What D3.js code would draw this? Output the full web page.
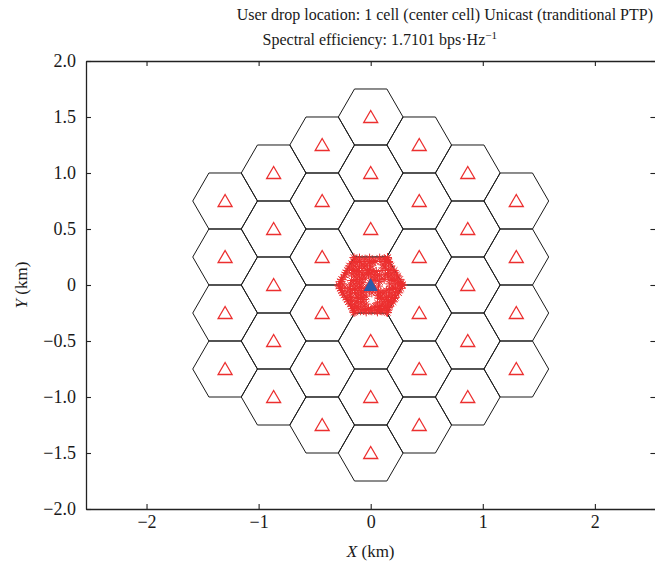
<!DOCTYPE html>
<html>
<head>
<meta charset="utf-8">
<script src="https://cdn.jsdelivr.net/npm/d3@7"></script>
<style>
  body { margin: 0; background: #fff; }
  text { font-family: "Liberation Serif", "Times New Roman", serif; fill: #1a1a1a; }
</style>
</head>
<body>
<svg id="chart" width="655" height="574"></svg>
<script>
// Hexagonal layout: 37 cells (3 rings) with base station at each centre (km)
const cellX = [
  0, 0, 0, 0, 0, 0, 0,
  0.433, 0.433, 0.433, 0.433, 0.433, 0.433,
  -0.433, -0.433, -0.433, -0.433, -0.433, -0.433,
  0.866, 0.866, 0.866, 0.866, 0.866,
  -0.866, -0.866, -0.866, -0.866, -0.866,
  1.299, 1.299, 1.299, 1.299,
  -1.299, -1.299, -1.299, -1.299
];
const cellY = [
  -1.5, -1.0, -0.5, 0, 0.5, 1.0, 1.5,
  -1.25, -0.75, -0.25, 0.25, 0.75, 1.25,
  -1.25, -0.75, -0.25, 0.25, 0.75, 1.25,
  -1.0, -0.5, 0, 0.5, 1.0,
  -1.0, -0.5, 0, 0.5, 1.0,
  -0.75, -0.25, 0.25, 0.75,
  -0.75, -0.25, 0.25, 0.75
];
const cellRadius = 0.2887;
const servingCell = [0, 0];

// User drop locations in the centre cell (km)
const users = [
  [-0.14,0.23],[-0.10,0.24],[-0.05,0.23],[-0.01,0.24],[0.03,0.22],[0.08,0.24],[0.12,0.23],[0.15,0.24],
  [-0.15,0.21],[-0.10,0.21],[-0.06,0.21],[-0.01,0.21],[0.04,0.21],[0.09,0.21],[0.13,0.21],[0.16,0.21],
  [-0.17,0.19],[-0.12,0.20],[-0.08,0.18],[-0.03,0.19],[0.02,0.20],[0.11,0.18],[0.16,0.20],
  [-0.19,0.17],[-0.14,0.17],[-0.05,0.17],[0.00,0.17],[0.13,0.17],[0.18,0.17],
  [-0.19,0.15],[-0.15,0.14],[-0.10,0.16],[-0.06,0.15],[-0.01,0.14],[0.13,0.15],[0.18,0.14],
  [-0.21,0.13],[-0.16,0.13],[-0.11,0.13],[-0.03,0.13],[0.02,0.13],[0.10,0.13],[0.16,0.13],[0.21,0.13],
  [-0.22,0.11],[-0.17,0.10],[-0.13,0.12],[-0.08,0.11],[-0.04,0.10],[0.00,0.11],[0.05,0.12],[0.15,0.10],[0.20,0.11],
  [-0.23,0.09],[-0.12,0.09],[-0.07,0.09],[-0.02,0.09],[0.03,0.09],[0.08,0.09],[0.13,0.09],[0.18,0.09],[0.23,0.09],
  [-0.24,0.07],[-0.15,0.08],[-0.10,0.07],[-0.05,0.06],[0.01,0.07],[0.06,0.08],[0.10,0.06],[0.16,0.07],[0.21,0.06],[0.24,0.08],
  [-0.26,0.05],[-0.13,0.05],[-0.08,0.05],[0.04,0.05],[0.12,0.05],[0.19,0.05],[0.26,0.05],
  [-0.27,0.03],[-0.17,0.04],[-0.12,0.03],[-0.07,0.02],[0.03,0.04],[0.08,0.03],[0.19,0.04],[0.24,0.03],[0.27,0.02],
  [-0.25,0.01],[-0.15,0.01],[-0.10,0.01],[0.17,0.01],[0.22,0.01],[0.27,0.01],
  [-0.28,-0.01],[-0.23,-0.02],[-0.18,0.00],[-0.13,-0.01],[-0.08,-0.02],[0.07,-0.01],[0.20,-0.02],[0.25,-0.01],[0.28,0.00],
  [-0.27,-0.03],[-0.19,-0.03],[-0.14,-0.03],[-0.09,-0.03],[-0.04,-0.03],[0.02,-0.03],[0.17,-0.03],[0.22,-0.03],[0.27,-0.03],
  [-0.26,-0.05],[-0.21,-0.06],[-0.16,-0.04],[-0.11,-0.05],[-0.06,-0.06],[-0.01,-0.05],[0.04,-0.04],[0.09,-0.06],[0.14,-0.05],[0.19,-0.04],[0.24,-0.06],
  [-0.25,-0.07],[-0.18,-0.07],[-0.13,-0.07],[-0.08,-0.07],[0.01,-0.07],[0.07,-0.07],[0.12,-0.07],[0.17,-0.07],[0.22,-0.07],[0.25,-0.07],
  [-0.24,-0.09],[-0.19,-0.10],[-0.14,-0.08],[-0.09,-0.09],[-0.04,-0.10],[0.06,-0.09],[0.11,-0.08],[0.16,-0.10],[0.21,-0.09],
  [-0.22,-0.11],[-0.17,-0.11],[-0.12,-0.11],[-0.07,-0.11],[0.09,-0.11],[0.14,-0.11],[0.19,-0.11],[0.22,-0.11],
  [-0.21,-0.13],[-0.16,-0.14],[-0.11,-0.12],[-0.06,-0.13],[0.08,-0.12],[0.13,-0.13],[0.18,-0.14],[0.21,-0.12],
  [-0.20,-0.15],[-0.13,-0.15],[-0.08,-0.15],[0.11,-0.15],[0.16,-0.15],[0.20,-0.15],
  [-0.18,-0.17],[-0.14,-0.18],[-0.09,-0.16],[-0.04,-0.17],[0.06,-0.16],[0.10,-0.18],[0.15,-0.17],[0.18,-0.16],
  [-0.17,-0.19],[-0.12,-0.19],[-0.06,-0.19],[0.04,-0.19],[0.08,-0.19],[0.13,-0.19],[0.17,-0.19],
  [-0.16,-0.21],[-0.11,-0.20],[-0.07,-0.22],[-0.02,-0.21],[0.03,-0.20],[0.07,-0.22],[0.12,-0.21],[0.16,-0.20],
  [-0.15,-0.225],[-0.05,-0.225],[0.00,-0.225],[0.05,-0.225],[0.09,-0.225],[0.15,-0.225],
  [-0.14,-0.24],[-0.09,-0.23],[-0.04,-0.24],[0.01,-0.23],[0.06,-0.24],[0.10,-0.23],[0.14,-0.24],
  [-0.285,0.00],[0.285,0.00],[-0.15,0.245],[0.15,0.245],[-0.15,-0.245],[0.15,-0.245]
];

const xTicks = [-2, -1, 0, 1, 2];
const yTicks = [-2, -1.5, -1, -0.5, 0, 0.5, 1, 1.5, 2];
const titleLines = [
  "User drop location: 1 cell (center cell) Unicast (tranditional PTP)",
  "Spectral efficiency: 1.7101 bps\u00b7Hz"
];

const svg = d3.select('#chart');
const plotLeft = 86, plotRight = 655.4, plotTop = 61, plotBottom = 509;

const x = d3.scaleLinear().domain([-2.54, 2.54]).range([plotLeft, plotRight]);
const y = d3.scaleLinear().domain([-2, 2]).range([plotBottom, plotTop]);

const red = '#ec2f2f';

// Hexagon outlines (flat top)
const hexPoints = (cx, cy) => d3.range(6).map(k => {
  const a = Math.PI / 3 * k;
  return [x(cx + cellRadius * Math.cos(a)), y(cy + cellRadius * Math.sin(a))];
});
const cells = cellX.map((cx, i) => ({ x: cx, y: cellY[i] }));

svg.append('g').selectAll('polygon')
  .data(cells)
  .join('polygon')
  .attr('points', d => hexPoints(d.x, d.y).map(p => p.join(',')).join(' '))
  .attr('fill', 'none')
  .attr('stroke', '#1a1a1a')
  .attr('stroke-width', 1);

// Base stations (open red triangles)
svg.append('g').selectAll('path')
  .data(cells)
  .join('path')
  .attr('transform', d => `translate(${x(d.x)},${y(d.y)})`)
  .attr('d', 'M0,-6.5L7,5.5L-7,5.5Z')
  .attr('fill', 'none')
  .attr('stroke', red)
  .attr('stroke-width', 1.3);

// Users (asterisks)
svg.append('g').selectAll('path')
  .data(users)
  .join('path')
  .attr('transform', d => `translate(${x(d[0])},${y(d[1])})`)
  .attr('d', 'M-4.5,0H4.5M0,-4.5V4.5M-3.2,-3.2L3.2,3.2M-3.2,3.2L3.2,-3.2')
  .attr('stroke', red)
  .attr('stroke-width', 1);

// Serving base station
svg.append('path')
  .attr('transform', `translate(${x(servingCell[0])},${y(servingCell[1])})`)
  .attr('d', 'M0,-7L7,6L-7,6Z')
  .attr('fill', '#2c5ba8');

// Axes (ticks inward, box)
const fmtY = d => d === 0 ? '0' : d3.format('.1f')(d);
const styleAxis = g => {
  g.select('.domain').attr('stroke', '#222').attr('stroke-width', 1.3);
  g.selectAll('.tick line').attr('stroke', '#222').attr('stroke-width', 1.1);
  g.selectAll('.tick text').style('font-size', '18px').attr('fill', '#1a1a1a');
};

svg.append('g').attr('transform', `translate(0,${plotBottom})`)
  .call(d3.axisBottom(x).tickValues(xTicks).tickFormat(d3.format('d')).tickSize(-5).tickSizeOuter(0).tickPadding(6))
  .call(styleAxis);
svg.append('g').attr('transform', `translate(0,${plotTop})`)
  .call(d3.axisTop(x).tickValues(xTicks).tickFormat('').tickSize(-5).tickSizeOuter(0))
  .call(styleAxis);
svg.append('g').attr('transform', `translate(${plotLeft},0)`)
  .call(d3.axisLeft(y).tickValues(yTicks).tickFormat(fmtY).tickSize(-5).tickSizeOuter(0).tickPadding(10))
  .call(styleAxis);
svg.append('g').attr('transform', `translate(${plotRight},0)`)
  .call(d3.axisRight(y).tickValues(yTicks).tickFormat('').tickSize(-5).tickSizeOuter(0))
  .call(styleAxis);

// Axis labels
const xl = svg.append('text')
  .attr('x', x(0)).attr('y', 557)
  .attr('text-anchor', 'middle')
  .style('font-size', '17px');
xl.append('tspan').style('font-style', 'italic').text('X');
xl.append('tspan').text(' (km)');

const yl = svg.append('text')
  .attr('transform', `translate(27,${y(0)}) rotate(-90)`)
  .attr('text-anchor', 'middle')
  .style('font-size', '17px');
yl.append('tspan').style('font-style', 'italic').text('Y');
yl.append('tspan').text(' (km)');

// Title
svg.append('text')
  .attr('x', 653).attr('y', 20)
  .attr('text-anchor', 'end')
  .style('font-size', '16px')
  .text(titleLines[0]);
const t2 = svg.append('text')
  .attr('x', 497).attr('y', 45)
  .attr('text-anchor', 'end')
  .style('font-size', '16px');
t2.append('tspan').text(titleLines[1]);
t2.append('tspan').attr('dy', -6).style('font-size', '11px').text('\u22121');
</script>
</body>
</html>
